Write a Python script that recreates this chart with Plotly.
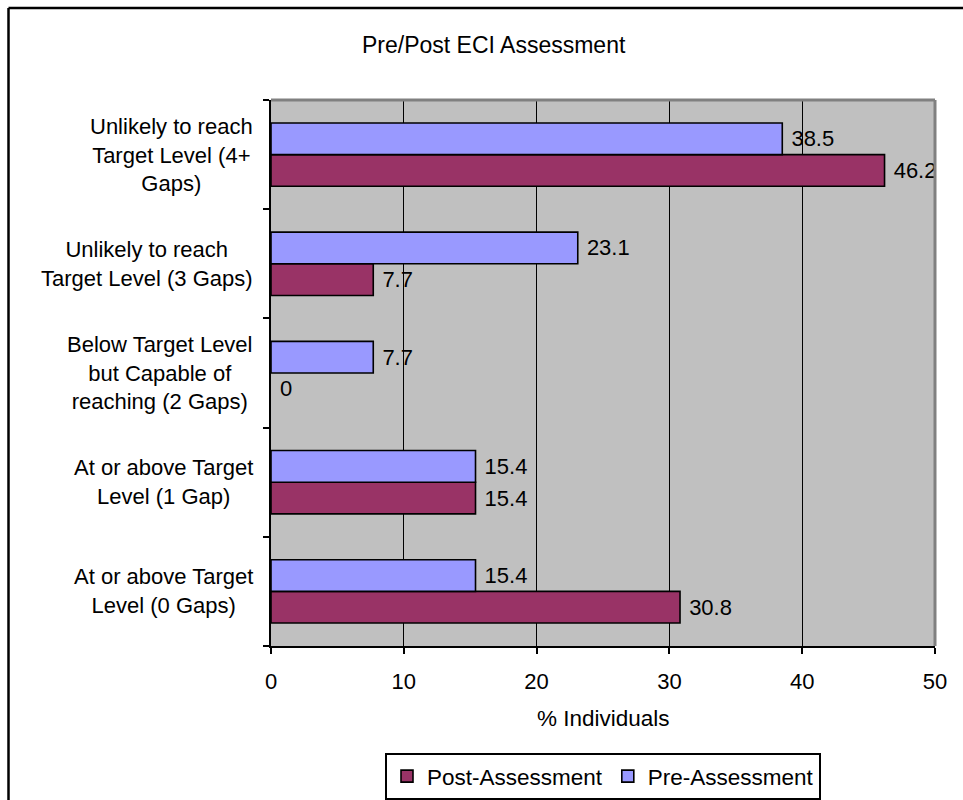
import plotly.graph_objects as go

categories = [
    "At or above Target<br>Level (0 Gaps)",
    "At or above Target<br>Level (1 Gap)",
    "Below Target Level<br>but Capable of<br>reaching (2 Gaps)",
    "Unlikely to reach<br>Target Level (3 Gaps)",
    "Unlikely to reach<br>Target Level (4+<br>Gaps)",
]
post_values = [30.8, 15.4, 0, 7.7, 46.2]
pre_values = [15.4, 15.4, 7.7, 23.1, 38.5]
x_ticks = [0, 10, 20, 30, 40, 50]

FONT = "Liberation Sans, Arial, sans-serif"
FS = 22

W, H = 963, 800
L, R, T, B = 271, 963 - 935, 100, 800 - 646
pw, ph = W - L - R, H - T - B


def px_to_paper_x(px):
    return (px - L) / pw


def px_to_paper_y(py):
    return (H - B - py) / ph


def edge_widths(values):
    return [1.6 if v > 0 else 0 for v in values]


fig = go.Figure()
fig.add_trace(go.Bar(
    y=categories, x=post_values, orientation="h", name="Post-Assessment",
    marker=dict(color="#993366",
                line=dict(color="black", width=edge_widths(post_values))),
    texttemplate="\u00a0%{x}", textposition="outside",
    textfont=dict(family=FONT, size=FS, color="black"),
    constraintext="none", cliponaxis=True,
))
fig.add_trace(go.Bar(
    y=categories, x=pre_values, orientation="h", name="Pre-Assessment",
    marker=dict(color="#9999FF",
                line=dict(color="black", width=edge_widths(pre_values))),
    texttemplate="\u00a0%{x}", textposition="outside",
    textfont=dict(family=FONT, size=FS, color="black"),
    constraintext="none", cliponaxis=True,
))

annotations = []
for c in categories:
    annotations.append(dict(
        text=c, x=0, xref="paper", y=c, yref="y", xanchor="right",
        yanchor="middle", align="center", xshift=-16, showarrow=False,
        font=dict(family=FONT, size=FS, color="black"),
    ))
annotations.append(dict(
    text="% Individuals", x=0.5, xref="paper", y=px_to_paper_y(718),
    yref="paper", xanchor="center", yanchor="middle", showarrow=False,
    font=dict(family=FONT, size=22.5, color="black"),
))
annotations.append(dict(
    text="Pre/Post ECI Assessment", x=px_to_paper_x(494), xref="paper",
    y=px_to_paper_y(45), yref="paper", xanchor="center", yanchor="middle",
    showarrow=False, font=dict(family=FONT, size=23, color="black"),
))

shapes = [
    # outer chart frame: only its top and left edges are inside the picture
    dict(type="line", xref="paper", yref="paper",
         x0=px_to_paper_x(8.5), x1=px_to_paper_x(1100),
         y0=px_to_paper_y(8), y1=px_to_paper_y(8),
         line=dict(color="black", width=2.5), layer="below"),
    dict(type="line", xref="paper", yref="paper",
         x0=px_to_paper_x(8.5), x1=px_to_paper_x(8.5),
         y0=px_to_paper_y(8), y1=px_to_paper_y(1000),
         line=dict(color="black", width=2.5), layer="below"),
    # top and right plot borders (gray)
    dict(type="line", xref="paper", yref="paper", x0=0, x1=1, y0=1, y1=1,
         line=dict(color="#808080", width=3), layer="above"),
    dict(type="line", xref="paper", yref="paper", x0=1, x1=1, y0=0, y1=1,
         line=dict(color="#808080", width=3), layer="above"),
]

fig.update_layout(
    width=W, height=H,
    margin=dict(l=L, r=R, t=T, b=B, pad=0, autoexpand=False),
    paper_bgcolor="white", plot_bgcolor="#C0C0C0",
    barmode="group", bargap=0.42, bargroupgap=0,
    font=dict(family=FONT, size=FS, color="black"),
    showlegend=True,
    legend=dict(
        orientation="h", x=0.5, xanchor="center", y=px_to_paper_y(776.5),
        yanchor="middle", bordercolor="black", borderwidth=2,
        font=dict(family=FONT, size=22.5, color="black"),
        itemwidth=30, traceorder="normal", bgcolor="white",
    ),
    annotations=annotations,
    shapes=shapes,
    xaxis=dict(
        range=[0, 50], tickvals=x_ticks, ticktext=[str(v) for v in x_ticks],
        showgrid=True, gridcolor="black", gridwidth=1,
        showline=True, linecolor="black", linewidth=2,
        ticks="outside", ticklen=6, tickwidth=2, tickcolor="black",
        tickfont=dict(family=FONT, size=FS, color="black"),
        ticklabelstandoff=9, zeroline=False, fixedrange=True,
        automargin=False,
    ),
    yaxis=dict(
        type="category", categoryorder="array", categoryarray=categories,
        showticklabels=False, showgrid=False,
        showline=True, linecolor="black", linewidth=2,
        ticks="outside", ticklen=6, tickwidth=2, tickcolor="black",
        tickson="boundaries", zeroline=False, fixedrange=True,
        automargin=False,
    ),
)

fig.write_html("out.html")
